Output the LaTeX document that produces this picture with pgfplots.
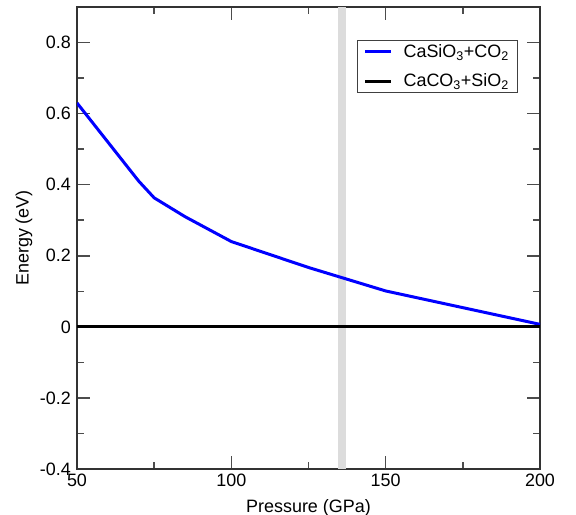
\documentclass[border=0pt]{standalone}
\usepackage{fontspec}
\setmainfont{Liberation Sans}
\usepackage{pgfplots}
\pgfplotsset{compat=1.18}
\definecolor{bandgray}{RGB}{220,220,220}
\newcommand{\bigf}{\fontsize{18}{20}\selectfont}
\begin{document}
\begin{tikzpicture}
\useasboundingbox (-77bp,-46bp) rectangle (499bp,469bp);
\begin{axis}[
  scale only axis, width=463bp, height=462bp,
  xmin=50, xmax=200, ymin=-0.4, ymax=0.9,
  xtick={50,100,150,200}, xticklabels={50,100,150,200},
  minor xtick={75,125,175},
  ytick={-0.4,-0.2,0,0.2,0.4,0.6,0.8},
  yticklabels={-0.4,-0.2,0,0.2,0.4,0.6,0.8},
  minor ytick={-0.3,-0.1,0.1,0.3,0.5,0.7},
  tick align=inside, major tick length=13bp, minor tick length=7bp,
  every tick/.style={line width=1.5bp, color=black!70},
  axis line style={line width=2bp, color=black!80},
  font=\bigf,
  tick label style={font=\bigf},
  xticklabel style={inner sep=5bp},
  yticklabel style={inner sep=6bp},
  label style={font=\bigf},
  xlabel={Pressure (GPa)}, ylabel={Energy (eV)},
  xlabel style={at={(axis description cs:0.5,0)}, anchor=base, yshift=-43.5bp},
  ylabel style={at={(axis description cs:-0.1145,0.5)}, anchor=center},
  legend style={at={(0.605,0.9286)}, anchor=north west, draw=black!75, line width=1bp,
    font=\bigf, inner xsep=6bp, inner ysep=2bp,
    row sep=11bp, cells={anchor=west},
    nodes={inner xsep=3bp}},
  legend image code/.code={\path (0bp,0bp) (34bp,0bp); \draw[#1] (0bp,0bp) -- (26bp,0bp);},
  clip=true,
]
\addplot[fill=bandgray, draw=none, forget plot] coordinates {(134.6,-0.4) (134.6,0.9) (137.1,0.9) (137.1,-0.4)};
\addplot[color={rgb,255:red,0;green,0;blue,255}, line width=3bp, line join=round] coordinates {
  (50,0.63) (70,0.41) (75,0.363) (85,0.31) (100,0.24) (125,0.167) (150,0.101) (200,0.007)
};
\addlegendentry{CaSiO\textsubscript{3}+CO\textsubscript{2}}
\addplot[color=black, line width=3bp] coordinates {(50,0) (200,0)};
\addlegendentry{CaCO\textsubscript{3}+SiO\textsubscript{2}}
\end{axis}
\end{tikzpicture}
\end{document}
